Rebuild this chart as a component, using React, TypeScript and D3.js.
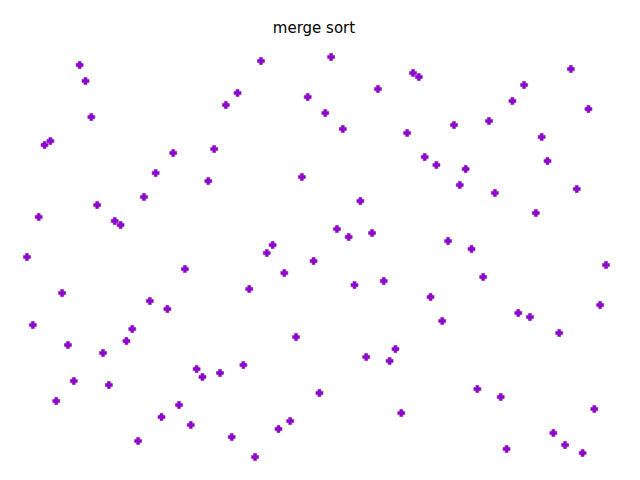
import React from "react";
import * as d3 from "d3";

const values = [50,33,60,78,79,14,41,28,19,98,94,85,63,26,18,59,58,29,32,4,65,39,71,10,37,76,13,47,8,22,20,69,77,21,88,5,91,23,42,0,99,51,53,7,46,9,30,70,90,49,16,86,100,57,82,55,43,64,25,56,92,44,24,27,11,81,96,95,75,40,73,34,54,83,68,72,52,17,45,84,66,15,2,89,36,93,35,61,80,74,6,31,3,97,67,1,87,12,38,48];
const title = "merge sort";

export default function App() {
  const x = d3.scaleLinear().domain([0, values.length - 1]).range([27, 606]);
  const y = d3.scaleLinear().domain([0, 100]).range([457, 57]);
  const s = 3.5, w = 1.5;
  const plus = `M${-w},${-s}H${w}V${-w}H${s}V${w}H${w}V${s}H${-w}V${w}H${-s}V${-w}H${-w}Z`;
  return (
    <svg width={640} height={480} style={{ position: "absolute", left: 0, top: 0 }}>
      <rect width={640} height={480} fill="white" />
      <text x={314} y={33} textAnchor="middle" fontFamily="DejaVu Sans" fontSize={15}>{title}</text>
      {values.map((v, i) => (
        <path key={i} d={plus} transform={`translate(${x(i)},${y(v)})`} fill="#9400d3" stroke="#7a1fa8" strokeWidth={0.6} />
      ))}
    </svg>
  );
}
